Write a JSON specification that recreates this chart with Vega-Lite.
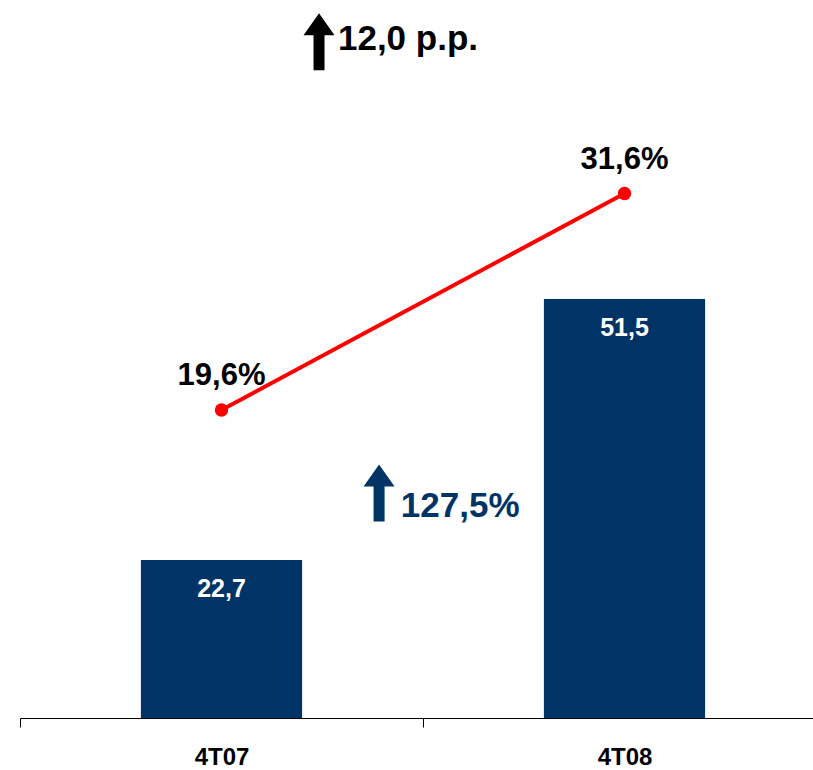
{
  "$schema": "https://vega.github.io/schema/vega-lite/v6.json",
  "width": 793,
  "height": 718,
  "autosize": {"type": "none"},
  "padding": {"left": 20, "top": 0, "right": 0, "bottom": 52},
  "background": "white",
  "config": {"view": {"stroke": null}, "font": "Liberation Sans"},
  "datasets": {
    "main": [
      {"q": "4T07", "receita": 22.7, "margem": 19.6, "receitaLabel": "22,7", "margemLabel": "19,6%"},
      {"q": "4T08", "receita": 51.5, "margem": 31.6, "receitaLabel": "51,5", "margemLabel": "31,6%"}
    ],
    "notes": [
      {"q": "4T07", "ppLabel": "12,0 p.p.", "growthLabel": "127,5%"}
    ]
  },
  "encoding": {
    "x": {
      "field": "q",
      "type": "nominal",
      "sort": ["4T07", "4T08"],
      "scale": {"range": [0, 806], "paddingInner": 0, "paddingOuter": 0},
      "axis": {
        "title": null,
        "labelAngle": 0,
        "domainColor": "#000000",
        "domainWidth": 1,
        "tickColor": "#000000",
        "tickSize": 9,
        "tickBand": "extent",
        "labelFont": "Liberation Sans",
        "labelFontSize": 24,
        "labelFontWeight": "bold",
        "labelColor": "#000000",
        "labelBaseline": "alphabetic",
        "labelPadding": 37,
        "grid": false
      }
    }
  },
  "layer": [
    {
      "layer": [
        {
          "data": {"name": "main"},
          "mark": {"type": "bar", "color": "#003466", "width": {"band": 0.4}},
          "encoding": {
            "y": {"field": "receita", "type": "quantitative", "scale": {"domain": [5.266, 84.49], "zero": false, "clamp": true, "nice": false}, "axis": null}
          }
        },
        {
          "data": {"name": "main"},
          "mark": {"type": "text", "color": "#ffffff", "fontSize": 25, "fontWeight": "bold", "baseline": "alphabetic", "dy": 37},
          "encoding": {
            "y": {"field": "receita", "type": "quantitative"},
            "text": {"field": "receitaLabel"}
          }
        },
        {
          "data": {"name": "notes"},
          "mark": {"type": "point", "filled": true, "opacity": 1, "color": "#003466", "size": 3249, "strokeWidth": 0,
            "shape": "M0,-1L0.544,-0.228L0.193,-0.228L0.193,1L-0.193,1L-0.193,-0.228L-0.544,-0.228Z"},
          "encoding": {
            "x": {"field": "q", "type": "nominal", "bandPosition": 0.891},
            "y": {"datum": 30.09}
          }
        },
        {
          "data": {"name": "notes"},
          "mark": {"type": "text", "color": "#003466", "fontSize": 35, "fontWeight": "bold", "align": "left", "baseline": "alphabetic"},
          "encoding": {
            "x": {"field": "q", "type": "nominal", "bandPosition": 0.945},
            "y": {"datum": 27.45},
            "text": {"field": "growthLabel"}
          }
        }
      ]
    },
    {
      "layer": [
        {
          "data": {"name": "main"},
          "mark": {"type": "line", "color": "#ff0000", "strokeWidth": 4},
          "encoding": {
            "y": {"field": "margem", "type": "quantitative", "scale": {"domain": [2.527, 42.33], "zero": false, "nice": false}, "axis": null}
          }
        },
        {
          "data": {"name": "main"},
          "mark": {"type": "circle", "color": "#ff0000", "size": 180, "opacity": 1},
          "encoding": {
            "y": {"field": "margem", "type": "quantitative"}
          }
        },
        {
          "data": {"name": "main"},
          "mark": {"type": "text", "color": "#000000", "fontSize": 31, "fontWeight": "bold", "baseline": "alphabetic", "dy": -25},
          "encoding": {
            "y": {"field": "margem", "type": "quantitative"},
            "text": {"field": "margemLabel"}
          }
        },
        {
          "data": {"name": "notes"},
          "mark": {"type": "point", "filled": true, "opacity": 1, "color": "#000000", "size": 3249, "strokeWidth": 0,
            "shape": "M0,-1L0.544,-0.228L0.193,-0.228L0.193,1L-0.193,1L-0.193,-0.228L-0.544,-0.228Z"},
          "encoding": {
            "x": {"field": "q", "type": "nominal", "bandPosition": 0.742},
            "y": {"datum": 40.02}
          }
        },
        {
          "data": {"name": "notes"},
          "mark": {"type": "text", "color": "#000000", "fontSize": 35, "fontWeight": "bold", "align": "left", "baseline": "alphabetic"},
          "encoding": {
            "x": {"field": "q", "type": "nominal", "bandPosition": 0.789},
            "y": {"datum": 39.56},
            "text": {"field": "ppLabel"}
          }
        }
      ]
    }
  ],
  "resolve": {"scale": {"y": "independent"}}
}
